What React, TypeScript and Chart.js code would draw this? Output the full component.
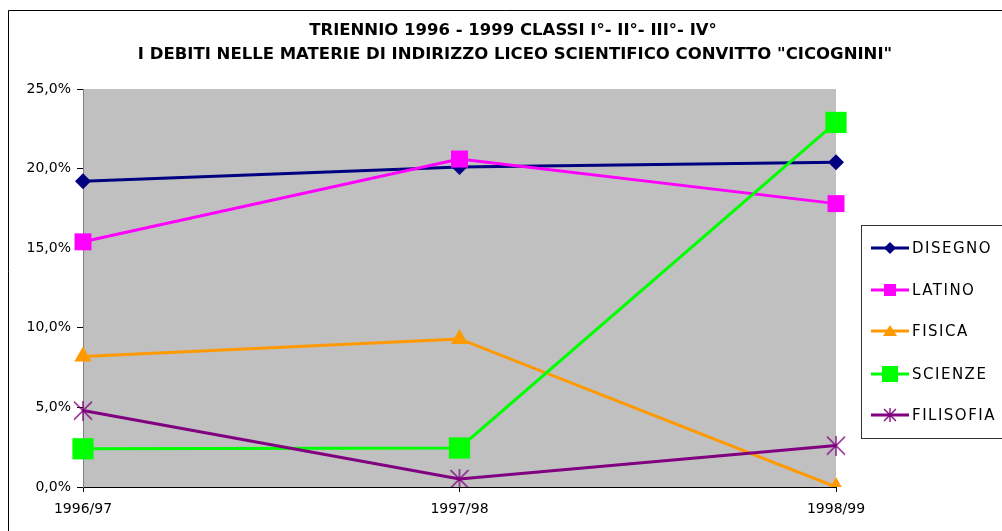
import React, { useEffect, useRef } from "react";
import { Chart, registerables } from "chart.js";

Chart.register(...registerables);

const categories = ["1996/97", "1997/98", "1998/99"];
const seriesNames = ["DISEGNO", "LATINO", "FISICA", "SCIENZE", "FILISOFIA"];
const disegno = [19.2, 20.1, 20.4];
const latino = [15.4, 20.6, 17.8];
const fisica = [8.2, 9.3, 0.0];
const scienze = [2.4, 2.45, 22.9];
const filisofia = [4.8, 0.5, 2.6];
const titleLines = [
  "TRIENNIO 1996 - 1999 CLASSI I°- II°- III°- IV°",
  'I DEBITI NELLE MATERIE DI INDIRIZZO LICEO SCIENTIFICO CONVITTO "CICOGNINI"',
];

const colors = ["#000080", "#FF00FF", "#FF9900", "#00FF00", "#800080"];
const FONT = "'DejaVu Sans', sans-serif";

function makeStar(size: number, color: string, lw: number) {
  const c = document.createElement("canvas");
  c.width = size;
  c.height = size;
  const g = c.getContext("2d")!;
  g.strokeStyle = color;
  g.lineWidth = lw;
  const m = 1;
  g.beginPath();
  g.moveTo(m, m);
  g.lineTo(size - m, size - m);
  g.moveTo(size - m, m);
  g.lineTo(m, size - m);
  g.moveTo(size / 2, 0);
  g.lineTo(size / 2, size);
  g.stroke();
  return c;
}

export default function App() {
  const ref = useRef<HTMLCanvasElement | null>(null);

  useEffect(() => {
    if (!ref.current) return;
    const star = makeStar(20, colors[4], 1.3);
    const starSmall = makeStar(14, colors[4], 1.3);

    const decor = {
      id: "decor",
      beforeDraw(chart: any) {
        const { ctx, chartArea } = chart;
        ctx.save();
        ctx.fillStyle = "#ffffff";
        ctx.fillRect(0, 0, chart.width, chart.height);
        ctx.strokeStyle = "#000000";
        ctx.lineWidth = 1;
        ctx.beginPath();
        ctx.moveTo(8.5, 540);
        ctx.lineTo(8.5, 10.5);
        ctx.lineTo(1010, 10.5);
        ctx.stroke();
        ctx.fillStyle = "#C0C0C0";
        ctx.fillRect(
          chartArea.left,
          chartArea.top,
          chartArea.right - chartArea.left,
          chartArea.bottom - chartArea.top
        );
        ctx.fillStyle = "#000000";
        ctx.font = `bold 16.5px ${FONT}`;
        ctx.textAlign = "center";
        ctx.textBaseline = "alphabetic";
        ctx.fillText(titleLines[0], 513, 35);
        ctx.fillText(titleLines[1], 515, 59);
        ctx.restore();
      },
      afterDraw(chart: any) {
        const { ctx } = chart;
        ctx.save();
        ctx.strokeStyle = "#333333";
        ctx.lineWidth = 1;
        ctx.fillStyle = "#ffffff";
        ctx.fillRect(861, 225, 160, 213);
        ctx.strokeRect(861.5, 225.5, 160, 213);
        const ys = [248, 290, 331, 374, 415];
        ctx.font = `15px ${FONT}`;
        try {
          (ctx as any).letterSpacing = "1.5px";
        } catch (e) {}
        ctx.textBaseline = "middle";
        ctx.textAlign = "left";
        seriesNames.forEach((name, i) => {
          const y = ys[i];
          ctx.strokeStyle = colors[i];
          ctx.lineWidth = 3;
          ctx.beginPath();
          ctx.moveTo(871, y);
          ctx.lineTo(909, y);
          ctx.stroke();
          const cx = 890;
          ctx.fillStyle = colors[i];
          if (i === 0) {
            ctx.beginPath();
            ctx.moveTo(cx - 6, y);
            ctx.lineTo(cx, y - 6);
            ctx.lineTo(cx + 6, y);
            ctx.lineTo(cx, y + 6);
            ctx.closePath();
            ctx.fill();
          } else if (i === 1) {
            ctx.fillRect(cx - 6, y - 6, 12, 12);
          } else if (i === 2) {
            ctx.beginPath();
            ctx.moveTo(cx, y - 6);
            ctx.lineTo(cx + 7, y + 5);
            ctx.lineTo(cx - 7, y + 5);
            ctx.closePath();
            ctx.fill();
          } else if (i === 3) {
            ctx.fillRect(cx - 8, y - 8, 16, 16);
          } else {
            ctx.drawImage(starSmall, cx - 7, y - 7);
          }
          ctx.fillStyle = "#000000";
          ctx.fillText(name, 912, y + 1);
        });
        ctx.restore();
      },
    };

    const datas = [disegno, latino, fisica, scienze, filisofia];
    const styles: any[] = ["rectRot", "rect", "triangle", "rect", star];
    const radii = [8, 12, 10, 15, 10];

    const chart = new Chart(ref.current, {
      type: "line",
      data: {
        labels: categories,
        datasets: datas.map((d, i) => ({
          label: seriesNames[i],
          data: d,
          borderColor: colors[i],
          backgroundColor: colors[i],
          borderWidth: 3,
          pointStyle: styles[i],
          pointRadius: radii[i],
          pointBorderWidth: 0,
          pointBackgroundColor: colors[i],
          pointBorderColor: colors[i],
          tension: 0,
          order: 5 - i,
        })),
      },
      plugins: [decor],
      options: {
        animation: false,
        responsive: false,
        maintainAspectRatio: false,
        layout: { padding: { left: 0, top: 89, right: 166, bottom: 0 } },
        plugins: {
          legend: { display: false },
          title: { display: false },
          tooltip: { enabled: false },
        },
        scales: {
          x: {
            type: "category",
            offset: false,
            grid: {
              display: true,
              drawOnChartArea: false,
              drawTicks: true,
              tickLength: 5,
              color: "#000000",
            },
            border: { display: true, color: "#000000", width: 1 },
            ticks: {
              color: "#000000",
              font: { family: FONT, size: 14 },
              padding: 9,
              maxRotation: 0,
            },
            afterFit(scale: any) {
              scale.height = 44;
            },
          },
          y: {
            min: 0,
            max: 25,
            grid: {
              drawOnChartArea: false,
              drawTicks: true,
              tickLength: 6,
              color: "#000000",
            },
            border: { display: true, color: "#808080", width: 1 },
            ticks: {
              stepSize: 5,
              color: "#000000",
              font: { family: FONT, size: 14 },
              padding: 6,
              callback: (v: any) => Number(v).toFixed(1).replace(".", ",") + "%",
            },
            afterFit(scale: any) {
              scale.width = 83;
            },
          },
        },
      },
    });
    return () => chart.destroy();
  }, []);

  return (
    <div style={{ position: "fixed", left: 0, top: 0, width: 1002, height: 531 }}>
      <canvas ref={ref} width={1002} height={531} style={{ width: 1002, height: 531 }} />
    </div>
  );
}
